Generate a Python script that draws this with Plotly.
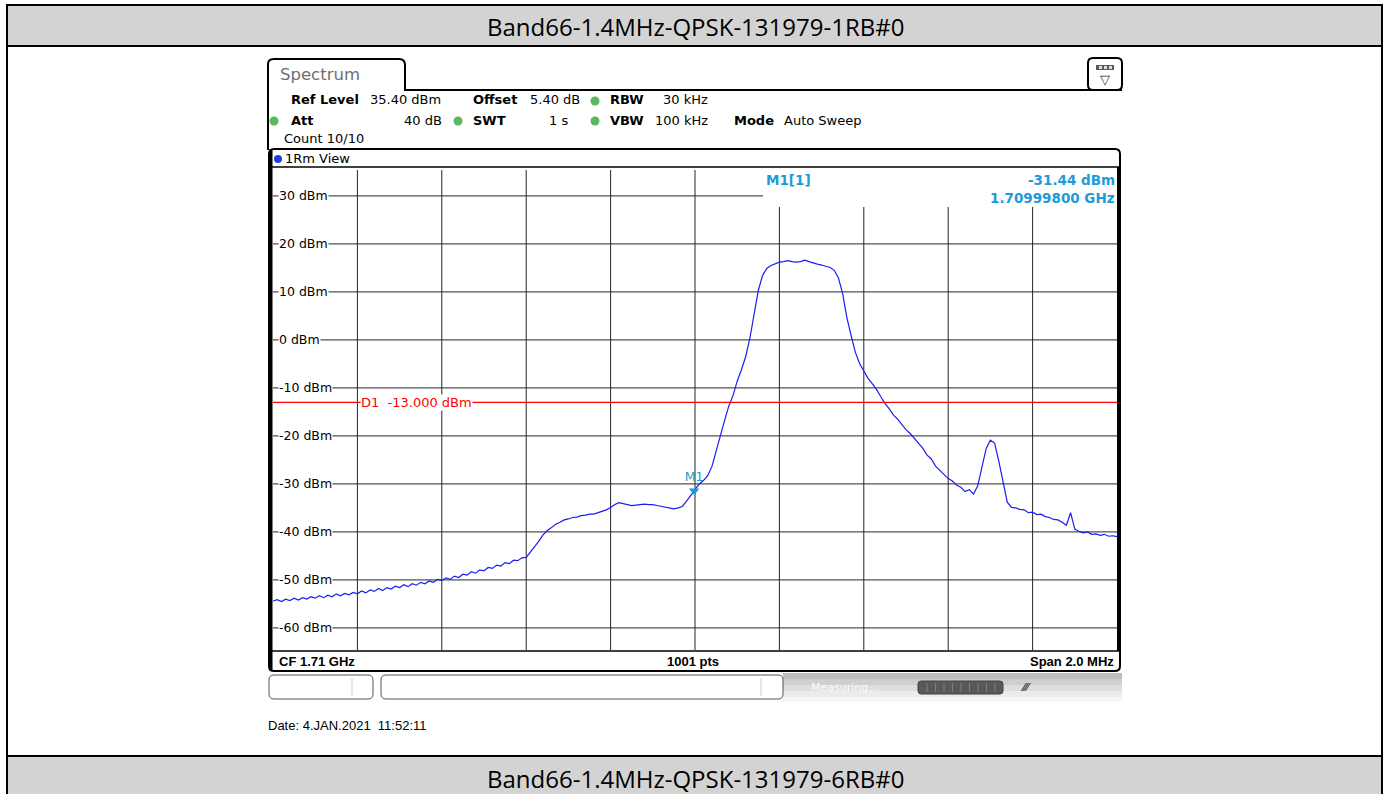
import plotly.graph_objects as go

W, H = 1389, 794

# Sweep settings
center_mhz = 1710.0
span_mhz = 2.0
ref_level_dbm = 35.4
range_db = 100.0
limit_dbm = -13.0
marker_freq_mhz = 1709.998
marker_level_dbm = -31.44

# Sweep point offsets from the centre frequency (MHz), 0.01 MHz apart
offset_mhz = [round(-1.0 + 0.01 * i, 2) for i in range(201)]

# Trace levels (dBm) at each sweep point
level_dbm = [
    -54.4, -54.1, -54.5, -54.0, -54.3, -53.8, -54.2, -53.7, -54.0, -53.5,
    -53.8, -53.3, -53.7, -53.2, -53.5, -52.9, -53.3, -52.8, -53.1, -52.6,
    -52.9, -52.3, -52.7, -52.1, -52.4, -51.8, -52.2, -51.6, -51.9, -51.3,
    -51.6, -51.0, -51.4, -50.8, -51.1, -50.5, -50.8, -50.2, -50.5, -49.9,
    -50.1, -49.6, -49.9, -49.2, -49.5, -48.8, -49.0, -48.3, -48.6, -47.9,
    -48.1, -47.4, -47.6, -46.9, -47.1, -46.4, -46.6, -45.9, -46.0, -45.4,
    -45.3, -44.2, -43.0, -41.9, -40.6, -39.7, -39.1, -38.4, -38.0, -37.5,
    -37.3, -37.0, -36.9, -36.6, -36.5, -36.3, -36.3, -36.0, -35.8, -35.4,
    -34.9, -34.3, -33.9, -34.1, -34.4, -34.5, -34.4, -34.3, -34.2, -34.3,
    -34.3, -34.5, -34.7, -34.9, -35.1, -35.2, -35.0, -34.7, -33.6, -32.4,
    -31.2, -30.0, -29.3, -28.3, -26.4, -23.4, -20.0, -16.8, -13.8, -11.6,
    -8.6, -6.2, -3.5, 0.3, 5.2, 10.3, 13.4, 14.9, 15.5, 15.9,
    16.2, 16.3, 16.5, 16.3, 16.2, 16.3, 16.6, 16.3, 16.0, 15.8,
    15.6, 15.4, 15.1, 14.5, 12.9, 9.6, 4.6, 0.9, -2.6, -4.9,
    -6.6, -8.0, -9.1, -10.3, -11.8, -13.2, -14.3, -15.6, -16.5, -17.6,
    -18.7, -19.5, -20.6, -21.7, -22.6, -24.0, -24.8, -26.3, -27.2, -27.9,
    -28.9, -29.4, -30.3, -30.7, -31.6, -31.2, -32.1, -30.4, -26.4, -22.6,
    -20.9, -21.5, -25.3, -29.2, -33.8, -34.9, -35.0, -35.3, -35.4, -36.0,
    -35.9, -36.4, -36.3, -36.8, -37.0, -37.4, -37.5, -38.0, -38.6, -36.0,
    -39.4, -39.9, -40.2, -40.0, -40.5, -40.4, -40.7, -40.5, -40.9, -40.8,
    -41.0,
]

ytick_values = [30, 20, 10, 0, -10, -20, -30, -40, -50, -60]
ytick_labels = ["30 dBm", "20 dBm", "10 dBm", "0 dBm", "-10 dBm", "-20 dBm",
                "-30 dBm", "-40 dBm", "-50 dBm", "-60 dBm"]

title_top = "Band66-1.4MHz-QPSK-131979-1RB#0"
title_next = "Band66-1.4MHz-QPSK-131979-6RB#0"

freq_mhz = [center_mhz + o for o in offset_mhz]
f_start = center_mhz - span_mhz / 2
f_stop = center_mhz + span_mhz / 2
xgrid_mhz = [round(f_start + span_mhz / 10 * k, 3) for k in range(1, 10)]


# pixel helpers (figure is drawn at 1:1 pixel scale)
def px(x):
    return x / W


def py(y):
    return 1 - y / H


GRID_L, GRID_R, GRID_T, GRID_B = 273, 1117, 170, 650
READOUT_L, READOUT_B = 763, 207   # marker readout block in the top-right corner

shapes = []
annotations = []


def rect(x0, y0, x1, y1, fill=None, line=None, lw=1, layer="above"):
    shapes.append(dict(type="rect", xref="paper", yref="paper",
                       x0=px(x0), x1=px(x1), y0=py(y1), y1=py(y0),
                       fillcolor=fill or "rgba(0,0,0,0)",
                       line=dict(color=line or "rgba(0,0,0,0)", width=lw if line else 0),
                       layer=layer))


def line(x0, y0, x1, y1, color="black", lw=1, layer="above"):
    shapes.append(dict(type="line", xref="paper", yref="paper",
                       x0=px(x0), x1=px(x1), y0=py(y0), y1=py(y1),
                       line=dict(color=color, width=lw), layer=layer))


def rrect_path(x0, y0, x1, y1, r):
    return (f"M {px(x0)},{py(y0 + r)} Q {px(x0)},{py(y0)} {px(x0 + r)},{py(y0)} "
            f"L {px(x1 - r)},{py(y0)} Q {px(x1)},{py(y0)} {px(x1)},{py(y0 + r)} "
            f"L {px(x1)},{py(y1 - r)} Q {px(x1)},{py(y1)} {px(x1 - r)},{py(y1)} "
            f"L {px(x0 + r)},{py(y1)} Q {px(x0)},{py(y1)} {px(x0)},{py(y1 - r)} Z")


def rrect(x0, y0, x1, y1, r, line_color="black", lw=1, fill=None, layer="above"):
    shapes.append(dict(type="path", xref="paper", yref="paper",
                       path=rrect_path(x0, y0, x1, y1, r),
                       fillcolor=fill or "rgba(0,0,0,0)",
                       line=dict(color=line_color, width=lw), layer=layer))


def dot(cx, cy, r, color):
    shapes.append(dict(type="circle", xref="paper", yref="paper",
                       x0=px(cx - r), x1=px(cx + r), y0=py(cy + r), y1=py(cy - r),
                       fillcolor=color, line=dict(color=color, width=0), layer="above"))


def text(x, y, s, size=12, color="black", family="DejaVu Sans", xanchor="left",
         bold=False, bg=None):
    annotations.append(dict(xref="paper", yref="paper", x=px(x), y=py(y),
                            text=f"<b>{s}</b>" if bold else s, showarrow=False,
                            xanchor=xanchor, yanchor="middle",
                            font=dict(size=size, color=color, family=family),
                            bgcolor=bg, borderpad=0))


# ---- document table frame and title bars ----
rect(7, 5, 1382, 46, fill="#d3d3d3", line="black", lw=2, layer="below")
rect(7, 46, 1382, 756, fill="white", line="black", lw=2, layer="below")
rect(7, 756, 1382, 800, fill="#d3d3d3", line="black", lw=2, layer="below")
text(695, 26, title_top, size=24, family="Open Sans", xanchor="center")
text(695, 778, title_next, size=24, family="Open Sans", xanchor="center")

# ---- grid (drawn from the axis scales; right-hand top part is left free for the readout) ----
for f in xgrid_mhz:
    x_pix = GRID_L + (f - f_start) / span_mhz * (GRID_R - GRID_L)
    top = READOUT_B if x_pix > READOUT_L else GRID_T
    shapes.append(dict(type="line", xref="x", yref="paper", x0=f, x1=f,
                       y0=py(GRID_B), y1=py(top),
                       line=dict(color="#262626", width=1), layer="below"))
readout_floor_dbm = ref_level_dbm - (READOUT_B - GRID_T) / (GRID_B - GRID_T) * range_db
for v in ytick_values:
    x_end = px(READOUT_L) if v > readout_floor_dbm else px(GRID_R)
    shapes.append(dict(type="line", xref="paper", yref="y", x0=px(GRID_L), x1=x_end,
                       y0=v, y1=v, line=dict(color="#262626", width=1), layer="below"))

# ---- analyzer header ----
shapes.append(dict(type="path", xref="paper", yref="paper",
                   path=(f"M {px(268)},{py(150)} L {px(268)},{py(64)} "
                         f"Q {px(268)},{py(59)} {px(274)},{py(59)} L {px(399)},{py(59)} "
                         f"Q {px(405)},{py(59)} {px(405)},{py(65)} L {px(405)},{py(90)} "
                         f"L {px(1122)},{py(90)}"),
                   line=dict(color="black", width=2), layer="above"))
text(279, 75, "Spectrum", size=16.5, color="#6e6e6e")

# settings icon at top right
rrect(1088, 58, 1122, 90, 5, lw=2, fill="white")
rect(1096, 65, 1114, 70, fill="#5a5a5a")
for xi in (1099, 1104, 1109):
    rect(xi, 66, xi + 3, 69, fill="#dddddd")
text(1105, 79, "▽", size=13, color="#333333", xanchor="center")

hdr = dict(size=13)
text(290, 100, "Ref Level", bold=True, **hdr)
text(369, 100, "35.40 dBm", **hdr)
text(472, 100, "Offset", bold=True, **hdr)
text(529, 100, "5.40 dB", **hdr)
dot(595, 101, 4.5, "#5cb85c")
text(609, 100, "RBW", bold=True, **hdr)
text(709, 100, "30 kHz", xanchor="right", **hdr)

dot(274, 121, 4.5, "#5cb85c")
text(290, 120, "Att", bold=True, **hdr)
text(443, 120, "40 dB", xanchor="right", **hdr)
dot(458, 121, 4.5, "#5cb85c")
text(472, 120, "SWT", bold=True, **hdr)
text(569, 120, "1 s", xanchor="right", **hdr)
dot(595, 121, 4.5, "#5cb85c")
text(609, 120, "VBW", bold=True, **hdr)
text(709, 120, "100 kHz", xanchor="right", **hdr)
text(733, 120, "Mode", bold=True, **hdr)
text(783, 120, "Auto Sweep", **hdr)
text(283, 138, "Count 10/10", **hdr)

# ---- measurement window frame ----
rrect(269, 149, 1120, 671, 5, lw=2)
line(271, 149, 271, 671, lw=3)
line(271, 167, 1120, 167, lw=1.5)
dot(278, 159, 4, "#1f3fe0")
text(284, 158, "1Rm View", size=13)
line(272, 651, 1119, 651, lw=1.5)
line(1118, 167, 1118, 651, lw=2)

mk_col = "#1e9ad6"
text(765, 180, "M1[1]", size=13.5, color=mk_col, bold=True)
text(1116, 180, f"{marker_level_dbm:.2f} dBm", size=13.5, color=mk_col, bold=True,
     xanchor="right")
text(1116, 198, f"{marker_freq_mhz / 1000:.8f} GHz", size=13.5, color=mk_col, bold=True,
     xanchor="right")

# y tick labels sit on the grid lines with a white background
for v, lab in zip(ytick_values, ytick_labels):
    y_pix = GRID_T + (ref_level_dbm - v) / range_db * (GRID_B - GRID_T)
    text(278, y_pix, lab, size=12.5, bg="white")

# display line label
y_lim = GRID_T + (ref_level_dbm - limit_dbm) / range_db * (GRID_B - GRID_T)
text(360, y_lim, "D1&nbsp;&nbsp;-13.000 dBm", size=13, color="red", bg="white")

# footer of the measurement window
text(278, 661, "CF 1.71 GHz", size=13, family="Liberation Sans", bold=True)
text(693, 661, "1001 pts", size=13, family="Liberation Sans", bold=True, xanchor="center")
text(1115, 661, "Span 2.0 MHz", size=13, family="Liberation Sans", bold=True,
     xanchor="right")

# ---- status bar ----
for y0, y1, c in [(673, 679, "#bdbdbd"), (679, 685, "#cfcfcf"), (685, 691, "#dedede"),
                  (691, 697, "#ececec"), (697, 702, "#f6f6f6")]:
    rect(783, y0, 1122, y1, fill=c, layer="below")
rrect(269, 675, 373, 699, 5, line_color="#555555", lw=1, fill="white")
line(352, 678, 352, 696, color="#cccccc")
rrect(381, 675, 783, 699, 5, line_color="#555555", lw=1, fill="white")
line(761, 678, 761, 696, color="#cccccc")
text(810, 687, "Measuring...", size=11, color="#fafafa")
rrect(918, 681, 1003, 694, 3, line_color="#444444", lw=1, fill="#595959")
for k in range(9):
    line(927 + k * 8.5, 683, 927 + k * 8.5, 692, color="#808080")
text(1026, 687, "<b>⁄⁄⁄</b>", size=11, color="#444444", xanchor="center")

# date stamp
text(267, 725, "Date: 4.JAN.2021&nbsp;&nbsp;11:52:11", size=13, family="Liberation Sans")

# ---- traces ----
fig = go.Figure()
fig.add_trace(go.Scatter(x=freq_mhz, y=level_dbm, mode="lines",
                         line=dict(color="#1c1cf5", width=1.2), hoverinfo="skip",
                         showlegend=False))
fig.add_trace(go.Scatter(x=[f_start, f_stop], y=[limit_dbm, limit_dbm],
                         mode="lines", line=dict(color="red", width=1.2),
                         hoverinfo="skip", showlegend=False))
fig.add_trace(go.Scatter(x=[marker_freq_mhz], y=[marker_level_dbm], mode="markers+text",
                         marker=dict(symbol="triangle-down", size=9, color=mk_col),
                         text=["M1"], textposition="top center",
                         textfont=dict(size=12.5, color=mk_col, family="DejaVu Sans"),
                         hoverinfo="skip", showlegend=False))

fig.update_layout(
    width=W, height=H, autosize=False,
    margin=dict(l=0, r=0, t=0, b=0),
    paper_bgcolor="white", plot_bgcolor="rgba(0,0,0,0)",
    shapes=shapes, annotations=annotations,
    xaxis=dict(domain=[px(GRID_L), px(GRID_R)], range=[f_start, f_stop],
               showgrid=False, showticklabels=False, zeroline=False,
               showline=False, ticks=""),
    yaxis=dict(domain=[py(GRID_B), py(GRID_T)],
               range=[ref_level_dbm - range_db, ref_level_dbm],
               showgrid=False, showticklabels=False, zeroline=False,
               showline=False, ticks=""),
)

fig.write_html("out.html")
